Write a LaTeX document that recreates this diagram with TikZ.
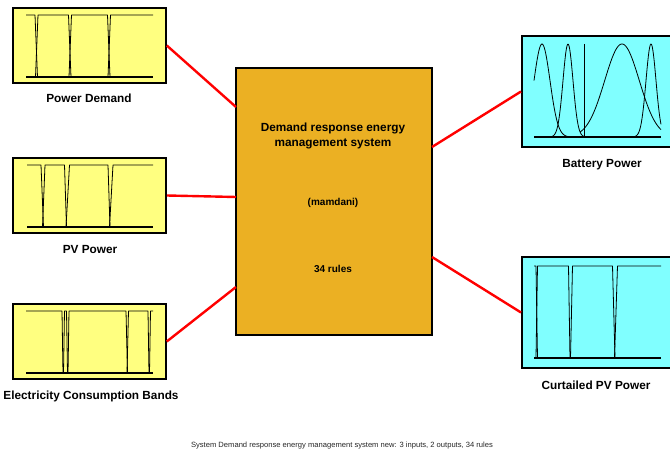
\documentclass[tikz,border=0pt]{standalone}
\usepackage{fontspec}
\setmainfont{Liberation Sans}
\definecolor{inyellow}{RGB}{255,255,128}
\definecolor{outcyan}{RGB}{128,255,255}
\definecolor{fisorange}{RGB}{235,176,35}
\begin{document}
\begin{tikzpicture}[x=1pt,y=-1pt,
  inbox/.style={draw=black, line width=1.6pt, fill=inyellow, minimum width=153pt, minimum height=75pt, inner sep=0pt},
  outbox/.style={draw=black, line width=1.6pt, fill=outcyan, minimum width=165pt, minimum height=111pt, inner sep=0pt, anchor=west},
  fisbox/.style={draw=black, line width=1.6pt, fill=fisorange, minimum width=196pt, minimum height=267pt, inner sep=0pt},
  mf/.style={line width=0.8pt, line join=round},
  base/.style={line width=1.3pt},
  wire/.style={red, line width=2.4pt},
  lbl/.style={font=\fontsize{11.8}{13}\selectfont\bfseries, inner sep=0pt},
  ttl/.style={font=\fontsize{11.8}{15}\selectfont\bfseries, inner sep=0pt, align=center},
  sml/.style={font=\fontsize{10}{11}\selectfont\bfseries, inner sep=0pt},
  captext/.style={font=\fontsize{7.6}{8}\selectfont, inner sep=0pt, text=black!85}]
\useasboundingbox (0,0) rectangle (670,454);
\clip (0,0) rectangle (670,454);

% central FIS box
\node[fisbox] (fis) at (334,201.5) {};
\coordinate (fin1) at (236,107);
\coordinate (fin2) at (236,197);
\coordinate (fin3) at (236,287);
\coordinate (fout1) at (432,147);
\coordinate (fout2) at (432,257);
\node[ttl] (fistitle) at (333,135.5) {Demand response energy\\ management system};
\node[sml] (fistype) at (333,203) {(mamdani)};
\node[sml] (fisrules) at (333,269) {34 rules};

% input boxes
\node[inbox] (pd) at (89.5,45.5) {};
\node[inbox] (pv) at (89.5,195.5) {};
\node[inbox] (ecb) at (89.5,341.5) {};
% output boxes
\node[outbox] (bat) at (521,91.5) {};
\node[outbox] (cpv) at (521,312.5) {};

% wires
\draw[wire] (pd.east) -- (fin1);
\draw[wire] (pv.east) -- (fin2);
\draw[wire] (ecb.east) -- (fin3);
\draw[wire] (fout1) -- (bat.west);
\draw[wire] (fout2) -- (cpv.west);

% Power Demand MFs
\draw[mf] (26,15) -- (35,15) -- (37.5,77);
\draw[mf] (35.5,77) -- (38,15) -- (68.5,15) -- (71,77);
\draw[mf] (69,77) -- (71.5,15) -- (107.5,15) -- (110,77);
\draw[mf] (108,77) -- (110.5,15) -- (153,15);
\draw[base] (26,77) -- (153,77);

% PV Power MFs
\draw[mf] (27,165) -- (41,165) -- (43.5,227);
\draw[mf] (42.5,227) -- (45,165) -- (64.5,165) -- (66.5,227);
\draw[mf] (66,227) -- (69.5,165) -- (108,165) -- (110,227);
\draw[mf] (109.5,227) -- (113,165) -- (153,165);
\draw[base] (27,227) -- (153,227);

% Electricity Consumption Bands MFs
\draw[mf] (26,311) -- (62,311) -- (63,373);
\draw[mf] (63.5,373) -- (64.5,311) -- (66.5,311) -- (67.5,373);
\draw[mf] (68,373) -- (69,311) -- (126,311) -- (127.5,373);
\draw[mf] (127,373) -- (128.5,311) -- (148,311) -- (149,373);
\draw[mf] (149.5,373) -- (150.5,311) -- (153,311);
\draw[base] (26,373) -- (153,373);

% Battery Power MFs (gaussians)
\draw[mf] plot[domain=534:575, samples=60] (\x, {137-93*exp(-((\x-542)^2)/128)});
\draw[mf] plot[domain=548:588, samples=60] (\x, {137-93*exp(-((\x-568)^2)/50)});
\draw[mf] (584,44) -- (584,137);
\draw[mf] plot[domain=580:661, samples=80] (\x, {137-93*exp(-((\x-622)^2)/600)});
\draw[mf] plot[domain=630:661, samples=50] (\x, {137-93*exp(-((\x-651)^2)/50)});
\draw[base] (534,137) -- (661,137);

% Curtailed PV Power MFs
\draw[mf] (534,266) -- (536,266) -- (537.5,358);
\draw[mf] (536,358) -- (537.5,266) -- (568.5,266) -- (570,358);
\draw[mf] (570.5,358) -- (572.5,266) -- (612.5,266) -- (615,358);
\draw[mf] (614.5,358) -- (617.5,266) -- (661,266);
\draw[base] (534,358) -- (661,358);

% labels
\node[lbl] (pdl) at (89,98) {Power Demand};
\node[lbl] (pvl) at (90,250) {PV Power};
\node[lbl] (ecbl) at (91,396) {Electricity Consumption Bands};
\node[lbl] (batl) at (602,165) {Battery Power};
\node[lbl] (cpvl) at (596,385) {Curtailed PV Power};

\node[captext] (caption) at (342,446) {System Demand response energy management system new: 3 inputs, 2 outputs, 34 rules};
\end{tikzpicture}
\end{document}
